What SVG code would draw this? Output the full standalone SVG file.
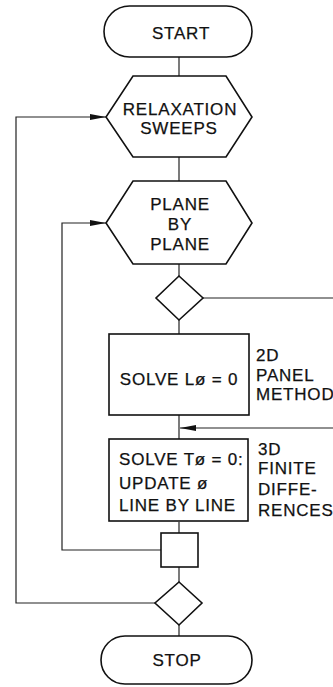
<svg xmlns="http://www.w3.org/2000/svg" width="333" height="687" viewBox="0 0 333 687">
<defs>
<style>
.s{fill:none;stroke:#111;stroke-width:1.6}
.c{fill:none;stroke:#222;stroke-width:1.2}
.t{font-family:"Liberation Sans",Arial,sans-serif;font-size:17px;letter-spacing:0.8px;fill:#111;stroke:#111;stroke-width:0.25}
.m{text-anchor:middle}
</style>
<marker id="ah" markerWidth="16" markerHeight="8" refX="16" refY="4" orient="auto" markerUnits="userSpaceOnUse">
<path d="M0,1 L16,4 L0,7 Z" fill="#111"/>
</marker>
</defs>
<rect width="333" height="687" fill="#fff"/>
<g id="connectors">
<path class="c" d="M179,57 V76"/>
<path class="c" d="M179,157 V181"/>
<path class="c" d="M179,264 V276"/>
<path class="c" d="M179,320 V334"/>
<path class="c" d="M179,415 V439"/>
<path class="c" d="M179,522 V533"/>
<path class="c" d="M179,567 V582"/>
<path class="c" d="M179,625 V636"/>
<path class="c" d="M203,298 H340 V428 H180" marker-end="url(#ah)"/>
<path class="c" d="M161,550 H62 V223 H106" marker-end="url(#ah)"/>
<path class="c" d="M155,603 H16 V117 H106" marker-end="url(#ah)"/>
</g>
<g id="start">
<rect class="s" x="104" y="6" width="148" height="51" rx="25.5"/>
<text class="t m" x="181" y="39">START</text>
</g>
<g id="relaxation">
<polygon class="s" points="133,76 226,76 252,117 226,157 133,157 106,117"/>
<text class="t m" x="180" y="115">RELAXATION</text>
<text class="t m" x="179" y="134">SWEEPS</text>
</g>
<g id="plane">
<polygon class="s" points="133,181 226,181 252,223 226,264 133,264 106,223"/>
<text class="t m" x="180" y="210">PLANE</text>
<text class="t m" x="180" y="230">BY</text>
<text class="t m" x="180" y="250">PLANE</text>
</g>
<g id="decision1">
<polygon class="s" points="179,276 203,298 179,320 156,298"/>
</g>
<g id="solveL">
<rect class="s" x="109" y="334" width="140" height="81"/>
<text class="t m" x="179" y="385">SOLVE Lø = 0</text>
<text class="t" x="256" y="361">2D</text>
<text class="t" x="256" y="381">PANEL</text>
<text class="t" x="256" y="400">METHOD</text>
</g>
<g id="solveT">
<rect class="s" x="109" y="439" width="139" height="82"/>
<text class="t" x="119" y="465">SOLVE Tø = 0:</text>
<text class="t" x="119" y="489">UPDATE ø</text>
<text class="t" x="119" y="511">LINE BY LINE</text>
<text class="t" x="258" y="455">3D</text>
<text class="t" x="258" y="474">FINITE</text>
<text class="t" x="258" y="495">DIFFE-</text>
<text class="t" x="258" y="516">RENCES</text>
</g>
<g id="junction">
<rect class="s" x="161" y="533" width="37" height="34"/>
</g>
<g id="decision2">
<polygon class="s" points="179,582 202,603 179,625 155,603"/>
</g>
<g id="stop">
<rect class="s" x="101" y="636" width="151" height="48" rx="24"/>
<text class="t m" x="177" y="666">STOP</text>
</g>
</svg>
